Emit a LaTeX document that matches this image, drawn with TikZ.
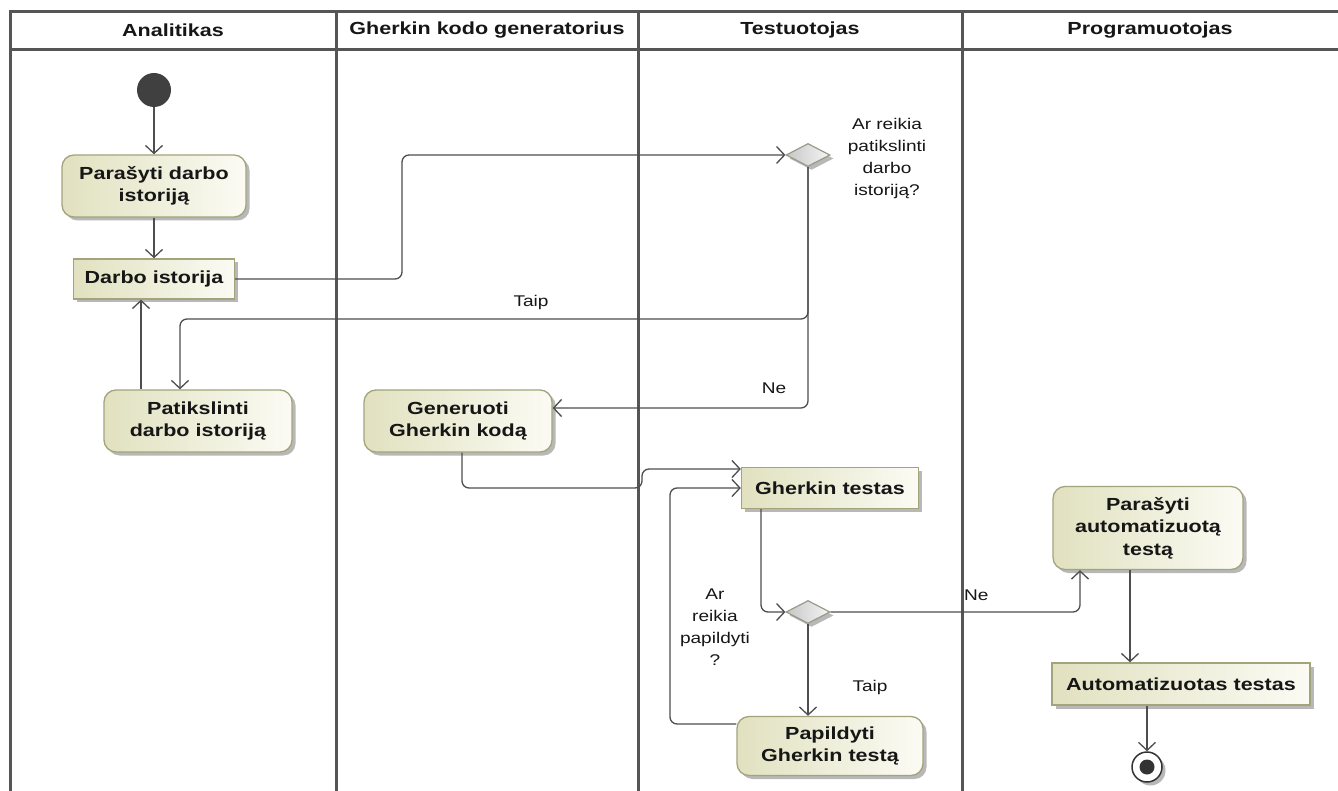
\documentclass[tikz,border=0pt]{standalone}
\usepackage{fontspec}
\setmainfont{Liberation Sans}[FakeStretch=1.23]
\usetikzlibrary{arrows.meta,shapes.geometric,shadows,calc}
\definecolor{lanecol}{HTML}{555555}
\definecolor{linecol}{HTML}{4E4E4E}
\definecolor{actborder}{HTML}{A4A47C}
\definecolor{actdark}{HTML}{E1E1C0}
\definecolor{actlight}{HTML}{FBFBF4}
\definecolor{decborder}{HTML}{9A9A88}
\definecolor{txtcol}{HTML}{161616}
\tikzset{
  lane/.style={draw=lanecol,line width=3pt},
  lanetitle/.style={font=\bfseries\fontsize{17.5}{21}\selectfont,text=txtcol},
  boxshadow/.style={drop shadow={shadow xshift=3.5pt,shadow yshift=-3.5pt,fill=black!28,opacity=1}},
  action/.style={draw=actborder,line width=1.3pt,rounded corners=12pt,
    left color=actdark,right color=actlight,boxshadow,align=center,
    font=\bfseries\fontsize{17.5}{22.5}\selectfont,text=txtcol,inner sep=2pt},
  objbox/.style={action,rounded corners=0pt},
  decision/.style={diamond,draw=decborder,line width=1.2pt,left color=black!22,right color=black!4,
    minimum width=44pt,minimum height=23pt,inner sep=0pt,boxshadow},
  guard/.style={font=\fontsize{15.5}{22}\selectfont,text=txtcol,align=center,inner sep=0pt},
  flow/.style={draw=linecol,line width=1.3pt,rounded corners=7pt,
    -{Straight Barb[length=8pt,width=17pt,line width=1.3pt]}},
}
\begin{document}
\begin{tikzpicture}[x=1pt,y=-1pt]
\useasboundingbox[fill=white] (0,0) rectangle (1338,791);

% swimlane frame
\draw[lane] (10,791) -- (10,12) -- (1338,12);
\draw[lane] (10,50) -- (1338,50);
\foreach \xx in {336,638,962} \draw[lane] (\xx,12) -- (\xx,791);
\node[lanetitle] (h1) at (173,30) {Analitikas};
\node[lanetitle] (h2) at (487,30) {Gherkin kodo generatorius};
\node[lanetitle] (h3) at (800,30) {Testuotojas};
\node[lanetitle] (h4) at (1150,30) {Programuotojas};

% initial and final nodes
\node[circle,fill=black!75,minimum size=34pt,inner sep=0pt] (init) at (154,90) {};
\node[circle,draw=black!80,line width=1.5pt,fill=white,minimum size=30pt,inner sep=0pt,boxshadow] (fin) at (1147,767) {};
\node[circle,fill=black!80,minimum size=15pt,inner sep=0pt] (finc) at (fin.center) {};

% actions and objects
\node[action,minimum width=184pt,minimum height=62pt] (a1) at (154,186) {Parašyti darbo\\istoriją};
\node[objbox,minimum width=161pt,minimum height=40pt] (o1) at (154,279) {Darbo istorija};
\node[action,minimum width=188pt,minimum height=62pt] (a2) at (198,421) {Patikslinti\\darbo istoriją};
\node[action,minimum width=188pt,minimum height=62pt] (a3) at (458,421) {Generuoti\\Gherkin kodą};
\node[objbox,minimum width=177pt,minimum height=41pt] (o2) at (830,488) {Gherkin testas};
\node[action,minimum width=186pt,minimum height=59pt] (a4) at (830,746) {Papildyti\\Gherkin testą};
\node[action,minimum width=190pt,minimum height=83pt] (a5) at (1148,528) {Parašyti\\automatizuotą\\testą};
\node[objbox,minimum width=258pt,minimum height=42pt] (o3) at (1181,684) {Automatizuotas testas};

% decisions
\node[decision] (d1) at (808,155) {};
\node[decision] (d2) at (808,612) {};
\node[guard] (q1) at (887,159) {Ar reikia\\patikslinti\\darbo\\istoriją?};
\node[guard] (q2) at (715,627) {Ar\\reikia\\papildyti\\?};

% control flows
\draw[flow] (init) -- (a1);
\draw[flow] (a1) -- (o1);
\draw[flow] (o1.east) -- (402,279) |- (d1.west);
\draw[flow] (d1.south) |- ([xshift=-18pt]a2.north |- 0,319) -- ([xshift=-18pt]a2.north);
\draw[flow] (d1.south) |- ([yshift=13pt]a3.east);
\draw[flow] ([xshift=-57pt]a2.north) -- ([xshift=-57pt]a2.north |- o1.south);
\draw[flow] ([xshift=4pt]a3.south) |- (642,488) |- ([yshift=19pt]o2.west);
\draw[flow] ([yshift=22pt]a4.west) -| (670,488) -- (o2.west);
\draw[flow] ([xshift=-69pt]o2.south) |- (d2.west);
\draw[flow] (d2.south) -- (d2.south |- a4.north);
\draw[flow] (d2.east) -| ([xshift=-68pt]a5.south);
\draw[flow] ([xshift=-18pt]a5.south) -- ([xshift=-18pt]a5.south |- o3.north);
\draw[flow] (fin.north |- o3.south) -- (fin.north);

% guard labels
\node[guard] (g1) at (531,302) {Taip};
\node[guard] (g2) at (774,388) {Ne};
\node[guard] (g3) at (870,687) {Taip};
\node[guard,anchor=west] (g4) at (964,595) {Ne};
\end{tikzpicture}
\end{document}
